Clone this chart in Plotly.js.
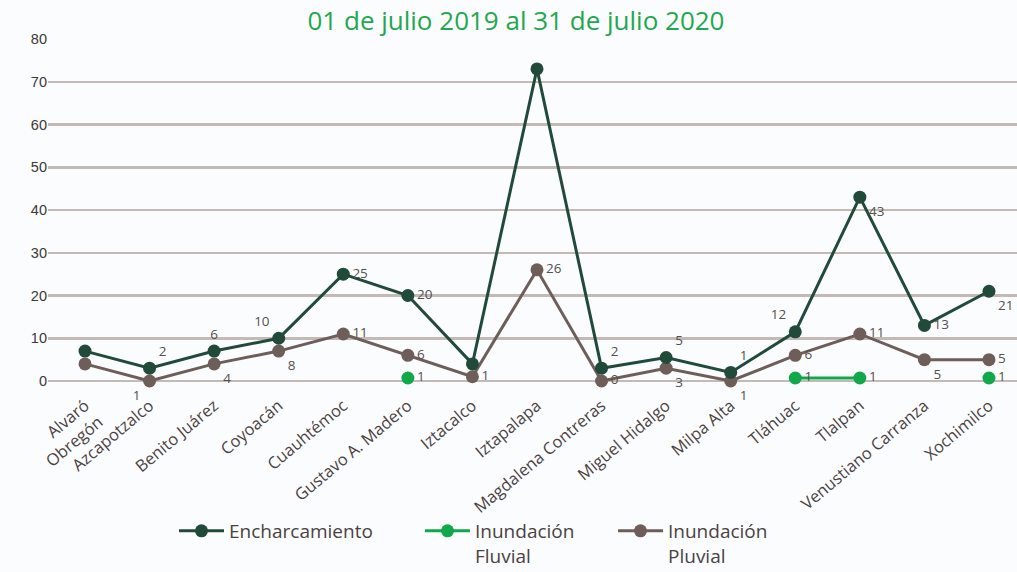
<!DOCTYPE html>
<html>
<head>
<meta charset="utf-8">
<script src="https://cdn.plot.ly/plotly-3.0.1.min.js"></script>
<style>html,body{margin:0;padding:0;background:#fbfcfd;}#chart{width:1017px;height:572px;}</style>
</head>
<body>
<div id="chart"></div>
<script>
// ---- Data ----
const categories = ["Alvaró<br>Obregón", "Azcapotzalco", "Benito Juárez", "Coyoacán", "Cuauhtémoc",
  "Gustavo A. Madero", "Iztacalco", "Iztapalapa", "Magdalena Contreras", "Miguel Hidalgo",
  "Milpa Alta", "Tláhuac", "Tlalpan", "Venustiano Carranza", "Xochimilco"];

const encharcamiento = [7, 3, 7, 10, 25, 20, 4, 73, 3, 5.5, 2, 11.5, 43, 13, 21];
const encharcamientoLabels = ["", "2", "6", "10", "25", "20", "", "", "2", "5", "1", "12", "43", "13", "21"];

const inundacionFluvial = [null, null, null, null, null, 0.7, null, null, null, null, null, 0.7, 0.7, null, 0.7];
const inundacionFluvialLabels = ["", "", "", "", "", "1", "", "", "", "", "", "1", "1", "", "1"];

const inundacionPluvial = [4, 0, 4, 7, 11, 6, 1, 26, 0, 3, 0, 6, 11, 5, 5];
const inundacionPluvialLabels = ["", "1", "4", "8", "11", "6", "1", "26", "0", "3", "1", "6", "11", "5", "5"];

const seriesNames = ["Encharcamiento", "Inundación<br>Fluvial", "Inundación<br>Pluvial"];
const titleText = "01 de julio 2019 al 31 de julio 2020";

// ---- Style ----
const cEnc = "#224a3b", cFlu = "#10a84a", cPlu = "#6e5e59";
const labelFont = {family: "Open Sans, sans-serif", size: 13.5, color: "#55504d"};
const posEnc = ["top right", "top right", "top center", "top left", "middle right", "middle right", "top right", "top right",
  "top right", "top right", "top right", "top left", "bottom right", "middle right", "bottom right"];
const posPlu = ["bottom right", "bottom left", "bottom right", "bottom right", "middle right", "middle right", "middle right", "middle right",
  "middle right", "bottom right", "bottom right", "middle right", "middle right", "bottom right", "middle right"];

const traces = [
  {x: categories, y: inundacionPluvial, name: seriesNames[2], type: "scatter", mode: "lines+markers+text",
   line: {color: cPlu, width: 3}, marker: {color: cPlu, size: 13},
   text: inundacionPluvialLabels, textposition: posPlu, textfont: labelFont, cliponaxis: false, legend: "legend3"},
  {x: categories, y: inundacionFluvial, name: seriesNames[1], type: "scatter", mode: "lines+markers+text",
   line: {color: cFlu, width: 3}, marker: {color: cFlu, size: 13}, connectgaps: false,
   text: inundacionFluvialLabels, textposition: "middle right", textfont: labelFont, cliponaxis: false, legend: "legend2"},
  {x: categories, y: encharcamiento, name: seriesNames[0], type: "scatter", mode: "lines+markers+text",
   line: {color: cEnc, width: 3}, marker: {color: cEnc, size: 13},
   text: encharcamientoLabels, textposition: posEnc, textfont: labelFont, cliponaxis: false, legend: "legend"}
];

const legendBase = {orientation: "h", xref: "container", yref: "container", xanchor: "left", yanchor: "top",
  y: 1 - 512 / 572, valign: "top", bgcolor: "rgba(0,0,0,0)", itemclick: false, itemwidth: 45,
  font: {family: "Open Sans, sans-serif", size: 19, color: "#4a4242"}};

const layout = {
  width: 1017, height: 572,
  margin: {l: 48, r: 0, t: 39, b: 191},
  paper_bgcolor: "#fbfcfd", plot_bgcolor: "#fbfcfd",
  showlegend: true,
  title: {text: titleText, xref: "container", x: 516 / 1017, xanchor: "center", yref: "container", y: 1 - 21 / 572, yanchor: "middle",
    font: {family: "Open Sans, sans-serif", size: 26, color: "#1fa84f"}},
  xaxis: {type: "category", range: [-0.573, 14.434], showgrid: false, zeroline: false, showline: false,
    tickangle: -40, ticks: "", ticklabelstandoff: 11,
    tickfont: {family: "Open Sans, sans-serif", size: 16.5, color: "#4a4242"}},
  yaxis: {range: [0, 80], dtick: 10, showgrid: true, gridcolor: "#c3b9b6", gridwidth: 2.5,
    zeroline: true, zerolinecolor: "#c3b9b6", zerolinewidth: 2.5, showline: false, ticks: "",
    tickfont: {family: "Liberation Sans, Arial, sans-serif", size: 14.5, color: "#3b3838"}},
  legend: Object.assign({}, legendBase, {x: 174 / 1017}),
  legend2: Object.assign({}, legendBase, {x: 420 / 1017}),
  legend3: Object.assign({}, legendBase, {x: 613 / 1017})
};

Plotly.newPlot("chart", traces, layout, {displayModeBar: false, staticPlot: true});
</script>
</body>
</html>
